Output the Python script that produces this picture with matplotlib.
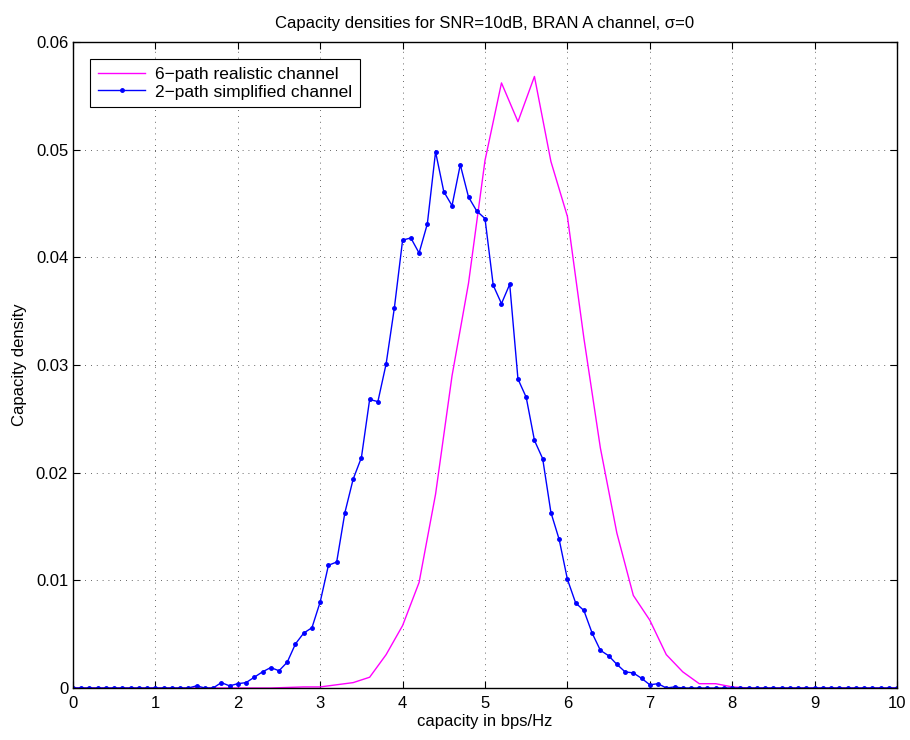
import numpy as np
import matplotlib
matplotlib.use("Agg")
import matplotlib.pyplot as plt

plt.rcParams['font.family'] = ['Liberation Sans', 'DejaVu Sans']

# 2-path simplified channel, x step 0.1 from 0 to 10
x_blue = [round(0.1 * i, 1) for i in range(101)]
y_blue = [0, 0, 0, 0, 0, 0, 0, 0, 0, 0,            # 0.0-0.9
          0, 0, 0, 0, 0, 0.0002, 0, 0, 0.0005, 0.0002,  # 1.0-1.9
          0.0004, 0.0005, 0.0010, 0.0015, 0.0019, 0.0016, 0.0024, 0.0041, 0.0051, 0.0056,  # 2.0-2.9
          0.0080, 0.0114, 0.0117, 0.0163, 0.0194, 0.0214, 0.0268, 0.0266, 0.0301, 0.0353,  # 3.0-3.9
          0.0416, 0.0418, 0.0404, 0.0431, 0.0498, 0.0461, 0.0448, 0.0486, 0.0456, 0.0443,  # 4.0-4.9
          0.0436, 0.0374, 0.0357, 0.0375, 0.0287, 0.0270, 0.0230, 0.0213, 0.0163, 0.0138,  # 5.0-5.9
          0.0101, 0.0079, 0.0072, 0.0051, 0.0035, 0.0030, 0.0022, 0.0015, 0.0014, 0.0009,  # 6.0-6.9
          0.0003, 0.0004, 0, 0.0001, 0, 0, 0, 0, 0, 0,  # 7.0-7.9
          0, 0, 0, 0, 0, 0, 0, 0, 0, 0,  # 8.0-8.9
          0, 0, 0, 0, 0, 0, 0, 0, 0, 0,  # 9.0-9.9
          0]

# 6-path realistic channel, x step 0.2 from 0 to 10
x_mag = [round(0.2 * i, 1) for i in range(51)]
y_mag = [0, 0, 0, 0, 0, 0, 0, 0, 0, 0,   # 0.0-1.8
         0, 0, 0, 0.00005, 0.0001,       # 2.0-2.8
         0.0001, 0.0003, 0.0005, 0.0010, 0.0031,  # 3.0-3.8
         0.0058, 0.0098, 0.0180, 0.0290, 0.0376,  # 4.0-4.8
         0.0490, 0.0562, 0.0526, 0.0568, 0.0489,  # 5.0-5.8
         0.0438, 0.0325, 0.0223, 0.0144, 0.0086,  # 6.0-6.8
         0.0063, 0.0031, 0.0015, 0.0004, 0.0004,  # 7.0-7.8
         0.0001, 0, 0, 0, 0,                      # 8.0-8.8
         0, 0, 0, 0, 0, 0]                        # 9.0-10.0
y_mag = y_mag[:51]

xticks = list(range(11))
yticks = [0, 0.01, 0.02, 0.03, 0.04, 0.05, 0.06]
ytick_labels = ['0', '0.01', '0.02', '0.03', '0.04', '0.05', '0.06']

fig = plt.figure(figsize=(9.1, 7.4), dpi=100)
ax = fig.add_axes([73/910, 1-688/740, (897-73)/910, (688-42)/740])

ax.plot(x_mag, y_mag, color='#ff00ff', lw=1.0, label='6\u2212path realistic channel')
ax.plot(x_blue, y_blue, color='#0000ff', lw=1.0, marker='o', markersize=2.5,
        label='2\u2212path simplified channel')

ax.set_xlim(0, 10)
ax.set_ylim(0, 0.06)
ax.set_xticks(xticks)
ax.set_xticklabels([str(t) for t in xticks])
ax.set_yticks(yticks)
ax.set_yticklabels(ytick_labels)
ax.tick_params(direction='in', top=True, right=True, labelsize=12, length=5, width=0.8)
ax.tick_params(axis='x', pad=6)
ax.grid(True, linestyle=(0, (1, 6)), color='black', linewidth=0.6, alpha=0.8)
for s in ax.spines.values():
    s.set_linewidth(1.0)

ax.set_xlabel('capacity in bps/Hz', fontsize=12, labelpad=2)
ax.set_ylabel('Capacity density', fontsize=12, labelpad=6)
ax.set_title('Capacity densities for SNR=10dB, BRAN A channel, \u03c3=0', fontsize=12, pad=10)

leg = ax.legend(loc='upper left', fontsize=12.5, fancybox=False, framealpha=1,
                edgecolor='black', handlelength=2.7, handletextpad=0.6,
                borderpad=0.45, labelspacing=0.12, borderaxespad=1.0)
leg.get_frame().set_linewidth(0.8)

fig.savefig('out.png', dpi=100)
